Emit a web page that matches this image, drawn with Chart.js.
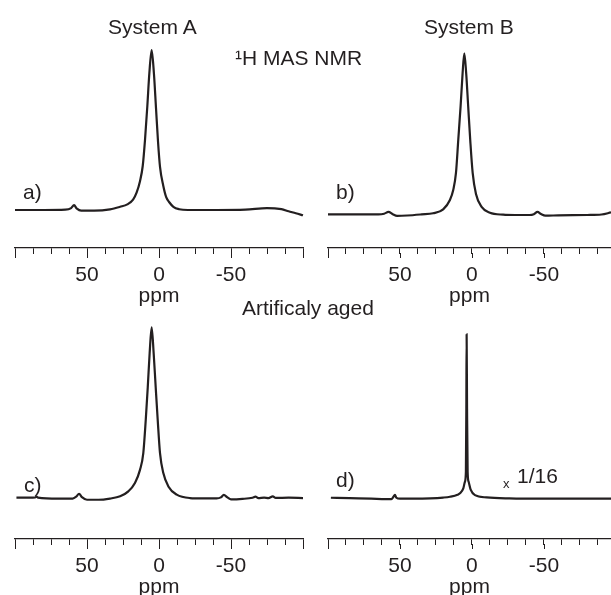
<!DOCTYPE html>
<html>
<head>
<meta charset="utf-8">
<script src="https://cdn.jsdelivr.net/npm/chart.js@4.4.0/dist/chart.umd.min.js"></script>
<style>
  html, body { margin: 0; padding: 0; background: #fff; }
  body { width: 611px; height: 595px; position: relative; overflow: hidden;
         font-family: "Liberation Sans", Arial, sans-serif; color: #231f20; }
  canvas { position: absolute; }
  .t { position: absolute; font-size: 21px; line-height: 21px; white-space: nowrap; z-index: 2; }
</style>
</head>
<body>
<canvas id="pa" width="290" height="277" style="left:14px;top:30px"></canvas>
<canvas id="pb" width="284" height="277" style="left:327px;top:30px"></canvas>
<canvas id="pc" width="290" height="279" style="left:14px;top:319px"></canvas>
<canvas id="pd" width="284" height="279" style="left:327px;top:319px"></canvas>

<div class="t" style="left:108px;top:15.5px">System A</div>
<div class="t" style="left:424px;top:15.5px">System B</div>
<div class="t" style="left:235px;top:47px">¹H MAS NMR</div>
<div class="t" style="left:242px;top:297px">Artificaly aged</div>
<div class="t" style="left:23px;top:181px">a)</div>
<div class="t" style="left:336px;top:180.5px">b)</div>
<div class="t" style="left:24px;top:474px">c)</div>
<div class="t" style="left:336px;top:469px">d)</div>
<div class="t" style="left:503px;top:477px;font-size:13px;line-height:13px">x</div>
<div class="t" style="left:517px;top:464.5px">1/16</div>

<script>
// ось ppm: деления каждые 12.5, подписи только 50 / 0 / -50
const ppmTicks = [100, 87.5, 75, 62.5, 50, 37.5, 25, 12.5, 0, -12.5, -25, -37.5, -50, -62.5, -75, -87.5, -100];
const ppmLabels = [50, 0, -50];
const majorTicks = [100, 50, 0, -50, -100];

// a) System A
const ppmA = [100, 80, 65, 61, 59, 57, 54, 45, 34, 27, 22, 18, 15.5, 13.2, 11.3, 9.7, 8.1, 6.7, 5.1, 3.5,
  2.1, 0.7, -0.7, -3, -5, -7, -10, -14, -20, -40, -60, -75, -85, -90, -95, -100];
const intA = [0, 0, 0.2, 1.2, 3, 0.8, -0.4, -0.4, 0.4, 2, 3.5, 6.5, 11, 18, 27.5, 44, 65, 85.5, 100, 85,
  64, 43, 27, 15, 8, 5, 2, 0.5, 0, 0, 0.2, 1.2, 0.5, -0.8, -2, -3.3];

// b) System B
const ppmB = [100, 80, 65, 61, 58, 55, 52, 45, 35, 27, 20, 15.3, 13, 11.1, 9.5, 7.9, 6.5, 5.3, 4, 2.6,
  1.2, -0.5, -2.8, -6.7, -12.5, -21.7, -30, -40, -43, -45.5, -48, -51, -60, -80, -90, -96.6];
const intB = [0.4, 0.4, 0.4, 0.8, 1.9, 0.5, -0.5, -0.3, 0.4, 1.1, 3.5, 9.3, 15.5, 26, 46.5, 67, 87.6, 100, 87.6, 67,
  46.5, 26, 13, 5, 1.4, 0.2, 0, 0, 0.5, 1.9, 0.6, -0.4, -0.2, 0, 0.3, 1.6];

// c) Artificaly aged, System A
const ppmC = [99, 90, 86, 85, 84, 70, 60, 57.5, 55.5, 53.5, 50, 42, 34, 27, 21.3, 16.7, 13.2, 10.9, 9.2, 7.8,
  6.5, 5.1, 3.7, 2.3, 0.9, -0.7, -3, -6.5, -12.3, -21.5, -30, -40, -43, -45, -47.5, -50, -58, -65, -67, -69,
  -73, -76, -79, -81, -90, -100];
const intC = [0.2, 0.2, 0.3, 0.9, 0.2, -0.4, -0.3, 0.8, 2.5, 0.5, -1, -1, -0.3, 1, 3.9, 8.8, 16.5, 26.3, 45.8, 65,
  84.8, 100, 84.8, 65, 45.8, 26.3, 14.6, 6.8, 2, 0, -0.2, -0.2, 0.4, 1.8, 0.4, -0.8, -0.5, 0.2, 0.8, 0,
  0.2, 0, 1, 0.1, 0.2, 0];

// d) Artificaly aged, System B (x 1/16)
const ppmD = [98, 85, 70, 60, 56, 54.5, 53.5, 52.5, 50, 40, 29, 20, 15.3, 10, 8.3, 6, 4.9, 4.2, 3.9, 3.7,
  3.4, 3, 2.3, 0.9, -2.1, -10.2, -26, -50, -96.6];
const intD = [0.6, 0.3, 0, -0.3, -0.2, 1.2, 2.4, 0.6, 0, 0, 0.2, 0.7, 1.2, 2.4, 3.3, 6.3, 10.3, 16.4, 55, 100,
  55, 16.4, 10.3, 5.5, 2.2, 0.8, 0.2, 0, 0];

const ink = '#231f20';
const fontFamily = "'Liberation Sans', Arial, sans-serif";

const panels = [
  { id: 'pa', ppm: ppmA, int: intA, xMin: -100, yMin: -23.75, yMax: 112.5, pad: { left: 1, right: 1 } },
  { id: 'pb', ppm: ppmB, int: intB, xMin: -96.6, yMin: -20.4, yMax: 114.4, pad: { left: 1, right: 0 } },
  { id: 'pc', ppm: ppmC, int: intC, xMin: -100, yMin: -24.0, yMax: 104.9, pad: { left: 1, right: 1 } },
  { id: 'pd', ppm: ppmD, int: intD, xMin: -96.6, yMin: -24.5, yMax: 109.3, pad: { left: 1, right: 0 } }
];

// удлинённые деления на 100, 50, 0, -50, -100
const majorTickPlugin = {
  id: 'majorTicks',
  afterDraw(chart) {
    const s = chart.scales.x;
    const c = chart.ctx;
    c.save();
    c.strokeStyle = ink;
    c.lineWidth = 1;
    majorTicks.forEach(v => {
      if (v < s.min || v > s.max) return;
      const x = Math.round(s.getPixelForValue(v)) + 0.5;
      c.beginPath();
      c.moveTo(x, s.top + 5);
      c.lineTo(x, s.top + 10);
      c.stroke();
    });
    c.restore();
  }
};

panels.forEach(p => {
  new Chart(document.getElementById(p.id), {
    type: 'line',
    data: {
      datasets: [{
        data: p.ppm.map((x, i) => ({ x: x, y: p.int[i] })),
        borderColor: ink,
        borderWidth: 2.2,
        pointRadius: 0,
        cubicInterpolationMode: 'monotone',
        fill: false,
        clip: false
      }]
    },
    options: {
      responsive: false,
      animation: false,
      devicePixelRatio: 1,
      layout: { padding: { left: p.pad.left, right: p.pad.right, top: 0, bottom: 0 } },
      plugins: { legend: { display: false }, tooltip: { enabled: false } },
      scales: {
        x: {
          type: 'linear',
          reverse: true,
          min: p.xMin,
          max: 100,
          afterBuildTicks: s => {
            s.ticks = ppmTicks.filter(v => v >= s.min && v <= s.max).map(v => ({ value: v }));
          },
          ticks: {
            autoSkip: false,
            maxRotation: 0,
            padding: 0,
            color: ink,
            font: { family: fontFamily, size: 21, lineHeight: 2 },
            callback: v => ppmLabels.includes(v) ? String(v) : ''
          },
          grid: { drawOnChartArea: false, drawTicks: true, tickLength: 6, tickWidth: 1, tickColor: ink },
          border: { display: true, color: ink, width: 1.3 },
          title: {
            display: true,
            text: 'ppm',
            color: ink,
            font: { family: fontFamily, size: 21, lineHeight: 1 },
            padding: { top: -10, bottom: 0 }
          }
        },
        y: { display: false, min: p.yMin, max: p.yMax }
      }
    },
    plugins: [majorTickPlugin]
  });
});
</script>
</body>
</html>
